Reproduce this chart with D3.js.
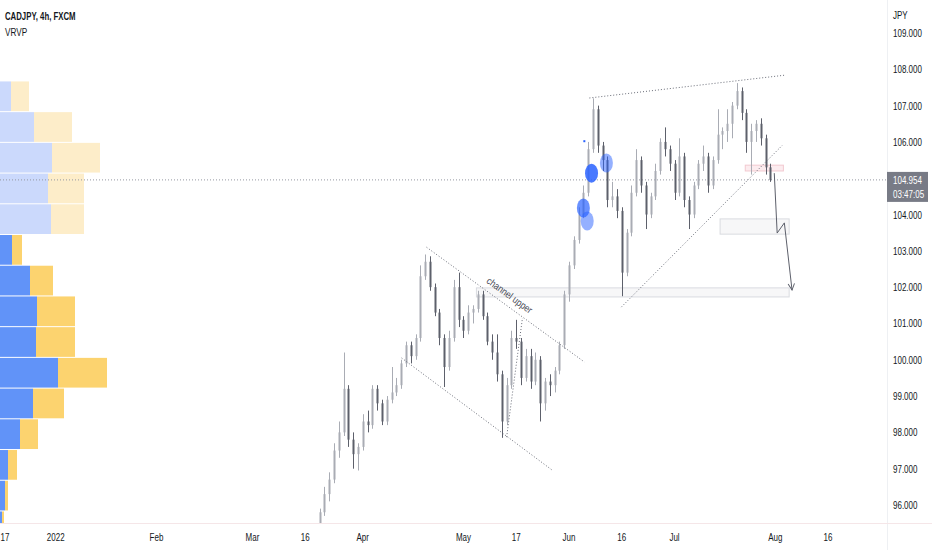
<!DOCTYPE html>
<html>
<head>
<meta charset="utf-8">
<script src="https://cdn.jsdelivr.net/npm/d3@7"></script>
<style>
  html, body { margin: 0; padding: 0; background: #fff; }
  svg { display: block; font-family: 'Liberation Sans', Arial, sans-serif; }
</style>
</head>
<body>
<div id="chart"></div>
<script>
// daily OHLC, first bar on candleStart, one per trading day
const candleStart = '2022-03-21'
const candles = [
  [95.3, 95.9, 95.2, 95.8], [95.8, 96.5, 95.7, 96.3], [96.3, 96.9, 96.1, 96.7], [96.7, 97.7, 96.6, 97.5],
  [97.5, 98.3, 97.3, 98.0], [98.0, 100.2, 97.9, 99.2], [99.2, 99.3, 97.6, 97.8], [97.8, 98.0, 97.0, 97.4],
  [97.4, 97.7, 96.95, 97.6], [97.6, 98.5, 97.5, 98.3], [98.3, 98.6, 98.0, 98.2], [98.2, 99.3, 98.1, 99.2],
  [99.2, 99.3, 98.6, 98.8], [98.8, 98.9, 98.2, 98.3], [98.3, 99.0, 98.2, 98.9], [98.9, 99.8, 98.8, 99.1],
  [99.1, 99.5, 99.0, 99.3], [99.3, 100.0, 99.2, 99.9], [99.9, 100.5, 99.8, 100.4], [100.4, 100.5, 99.9, 100.1],
  [100.1, 100.7, 100.0, 100.6], [100.6, 102.6, 100.5, 102.3], [102.3, 102.9, 102.2, 102.7], [102.7, 102.85, 101.9, 102.0],
  [102.0, 102.1, 101.2, 101.3], [101.3, 101.4, 100.4, 100.6], [100.6, 100.7, 99.25, 99.8], [99.8, 100.8, 99.7, 100.6],
  [100.6, 102.2, 100.5, 102.0], [102.0, 102.4, 100.9, 101.1], [101.1, 101.2, 100.6, 100.8], [100.8, 101.5, 100.7, 101.3],
  [101.3, 101.5, 101.0, 101.4], [101.4, 101.9, 101.3, 101.8], [101.8, 101.9, 101.1, 101.2], [101.2, 101.3, 100.4, 100.5],
  [100.5, 100.7, 100.0, 100.2], [100.2, 100.7, 99.4, 99.6], [99.6, 99.7, 97.85, 98.3], [98.3, 99.5, 98.2, 99.3],
  [99.3, 100.8, 99.2, 100.6], [100.6, 101.1, 100.3, 100.5], [100.5, 100.6, 99.3, 99.5], [99.5, 100.3, 99.4, 100.1],
  [100.1, 100.3, 99.2, 99.4], [99.4, 100.2, 99.3, 100.0], [100.0, 100.1, 98.3, 98.8], [98.8, 99.5, 98.6, 99.4],
  [99.4, 99.6, 99.0, 99.3], [99.3, 99.8, 99.1, 99.7], [99.7, 100.5, 99.6, 100.4], [100.4, 101.9, 100.3, 101.8],
  [101.8, 102.7, 101.6, 102.6], [102.6, 103.4, 102.5, 103.3], [103.3, 104.2, 103.2, 104.0], [104.0, 104.8, 103.9, 104.6],
  [104.6, 106.0, 104.5, 105.8], [105.8, 107.2, 105.7, 106.9], [106.9, 107.0, 105.7, 105.9], [105.9, 106.0, 105.2, 105.5],
  [105.5, 105.6, 104.2, 104.4], [104.4, 104.9, 104.2, 104.5], [104.5, 104.7, 103.9, 104.1], [104.1, 104.2, 101.75, 102.4],
  [102.4, 103.6, 102.3, 103.5], [103.5, 104.8, 103.4, 104.6], [104.6, 105.8, 104.5, 105.5], [105.5, 105.6, 104.6, 104.8],
  [104.8, 104.9, 103.6, 104.0], [104.0, 104.6, 103.9, 104.5], [104.5, 105.4, 104.4, 105.2], [105.2, 106.1, 105.1, 106.0],
  [106.0, 106.4, 105.6, 105.8], [105.8, 105.9, 105.2, 105.4], [105.4, 105.5, 104.4, 104.6], [104.6, 106.1, 104.5, 105.6],
  [105.6, 105.7, 104.2, 104.4], [104.4, 104.5, 103.6, 104.0], [104.0, 104.9, 103.9, 104.8], [104.8, 105.5, 104.7, 105.4],
  [105.4, 105.9, 105.2, 105.6], [105.6, 105.7, 104.6, 104.8], [104.8, 105.6, 104.7, 105.5], [105.5, 106.9, 105.4, 106.2],
  [106.2, 106.4, 105.8, 106.3], [106.3, 106.9, 106.0, 106.5], [106.5, 107.1, 106.1, 107.0], [107.0, 107.62, 106.9, 107.4],
  [107.4, 107.5, 106.6, 106.8], [106.8, 106.9, 105.7, 106.0], [106.0, 106.5, 105.1, 106.3], [106.3, 106.6, 106.0, 106.5],
  [106.5, 106.65, 105.9, 106.1], [106.1, 106.2, 105.1, 105.3], [105.3, 105.4, 104.9, 104.954]
]

// visible range volume profile, rows from the top price down
const profileTop = 107.68
const profileStep = 0.846
const profileUp = [11, 34, 52, 48, 51, 12, 30, 37, 36, 58, 33, 20, 8, 5, 2]
const profileDown = [18, 38, 48, 36, 33, 10, 23, 38, 39, 49, 31, 18, 9, 3, 2]
const profileFaded = 5

const xTicks = [
  ['2021-12-17', '17'], ['2022-01-03', '2022'], ['2022-02-01', 'Feb'], ['2022-03-01', 'Mar'],
  ['2022-03-16', '16'], ['2022-04-01', 'Apr'], ['2022-05-02', 'May'], ['2022-05-17', '17'],
  ['2022-06-01', 'Jun'], ['2022-06-16', '16'], ['2022-07-01', 'Jul'], ['2022-08-01', 'Aug'],
  ['2022-08-16', '16']
]
const yTicks = [96, 97, 98, 99, 100, 101, 102, 103, 104, 106, 107, 108, 109]
const lastPrice = 104.954
const countdown = '03:47:05'

// drawings: [trading-day index from 2022-01-03, price]
const dottedLines = [
  [[77.3, 103.10], [110.2, 99.94]],
  [[72.1, 100.05], [103.5, 96.96]],
  [[94.0, 97.87], [97.3, 101.15]],
  [[111.25, 107.21], [152.1, 107.84]],
  [[117.9, 101.45], [151.5, 105.91]]
]
const zones = [
  { d: [87.7, 152.9], p: [101.98, 101.73], kind: 'gray' },
  { d: [138.5, 152.9], p: [103.88, 103.46], kind: 'gray' },
  { d: [143.75, 151.7], p: [105.36, 105.20], kind: 'pink' }
]
const arrowPath = [[149.8, 105.14], [150.4, 103.49], [151.9, 103.77], [153.5, 101.92]]
const markers = [
  { d: 111.7, p: 105.14, shade: 'dark' },
  { d: 114.8, p: 105.42, shade: 'light' },
  { d: 110.0, p: 104.18, shade: 'mid' },
  { d: 110.8, p: 103.82, shade: 'light' }
]
const dotMarker = { d: 110.2, p: 106.02 }
const channelLabel = { d: 94.2, p: 101.70, text: 'channel upper' }

const width = 932
const height = 550
const plotRight = 887
const plotBottom = 523
const squeeze = 0.8 // the original's UI font is narrower than the installed ones

// trading calendar (weekdays) so the time axis skips weekends like the original
const parse = d3.timeParse('%Y-%m-%d')
const tradingDays = d3.timeDay.range(new Date(2021, 11, 1), new Date(2022, 8, 30))
  .filter(d => d.getDay() !== 0 && d.getDay() !== 6)
const origin = tradingDays.findIndex(d => +d === +parse('2022-01-03'))
const dayIndex = s => tradingDays.findIndex(d => +d === +parse(s)) - origin

const x = d3.scaleLinear().domain([-11, 161]).range([3, 828])
const y = d3.scaleLinear().domain([96, 109]).range([505, 33])

const place = (px, py, k = squeeze) => `translate(${px},${py}) scale(${k},1)`

const svg = d3.select('#chart').append('svg')
  .attr('width', width)
  .attr('height', height)

svg.append('defs').append('clipPath').attr('id', 'plot')
  .append('rect').attr('x', 0).attr('y', 0).attr('width', plotRight).attr('height', plotBottom)

svg.append('marker').attr('id', 'head')
  .attr('viewBox', '0 0 10 10').attr('refX', 9).attr('refY', 5)
  .attr('markerWidth', 8).attr('markerHeight', 8).attr('orient', 'auto')
  .append('path').attr('d', 'M1,1 L9,5 L1,9').attr('fill', 'none').attr('stroke', '#5d606b').attr('stroke-width', 1.2)

const plot = svg.append('g').attr('clip-path', 'url(#plot)')

// volume profile
const vx = d3.scaleLinear().domain([0, d3.max(profileUp, (u, i) => u + profileDown[i])]).range([0, 107])
const rowTop = i => y(profileTop - i * profileStep) + 0.5
const rowH = i => y(profileTop - (i + 1) * profileStep) - y(profileTop - i * profileStep) - 1
const rows = plot.append('g').selectAll('g').data(profileUp).join('g')
rows.append('rect')
  .attr('x', 0)
  .attr('y', (d, i) => rowTop(i))
  .attr('width', d => vx(d))
  .attr('height', (d, i) => rowH(i))
  .attr('fill', (d, i) => i < profileFaded ? '#cbd9fc' : '#6193f8')
rows.append('rect')
  .attr('x', d => vx(d))
  .attr('y', (d, i) => rowTop(i))
  .attr('width', (d, i) => vx(profileDown[i]))
  .attr('height', (d, i) => rowH(i))
  .attr('fill', (d, i) => i < profileFaded ? '#fdedc9' : '#fcd36f')

// last price line
plot.append('line')
  .attr('x1', 0).attr('x2', plotRight)
  .attr('y1', y(lastPrice)).attr('y2', y(lastPrice))
  .attr('stroke', '#9598a1').attr('stroke-dasharray', '1,2')

// zones
plot.append('g').selectAll('rect').data(zones).join('rect')
  .attr('x', d => x(d.d[0]))
  .attr('y', d => y(d.p[0]))
  .attr('width', d => x(d.d[1]) - x(d.d[0]))
  .attr('height', d => y(d.p[1]) - y(d.p[0]))
  .attr('fill', d => d.kind === 'pink' ? 'rgba(242,160,175,0.2)' : 'rgba(200,202,210,0.15)')
  .attr('stroke', d => d.kind === 'pink' ? '#f2c9d0' : '#d9dbe0')

// candles
const start = dayIndex(candleStart)
const up = d => d[3] >= d[0]
const bars = plot.append('g').selectAll('g').data(candles).join('g')
  .attr('stroke', d => up(d) ? '#a9acb4' : '#5d606b')
bars.append('line')
  .attr('x1', (d, i) => Math.round(x(start + i)) + 0.5)
  .attr('x2', (d, i) => Math.round(x(start + i)) + 0.5)
  .attr('y1', d => y(d[1]))
  .attr('y2', d => y(d[2]))
bars.append('rect')
  .attr('x', (d, i) => Math.round(x(start + i)) - 0.5)
  .attr('y', d => y(Math.max(d[0], d[3])))
  .attr('width', 2)
  .attr('height', d => Math.max(1, Math.abs(y(d[0]) - y(d[3]))))
  .attr('stroke', 'none')
  .attr('fill', d => up(d) ? '#a9acb4' : '#5d606b')

// trend lines
const line = d3.line().x(d => x(d[0])).y(d => y(d[1]))
plot.append('g').selectAll('path').data(dottedLines).join('path')
  .attr('d', line)
  .attr('fill', 'none')
  .attr('stroke', '#6a6d78')
  .attr('stroke-dasharray', '1,2')

plot.append('path')
  .attr('d', line(arrowPath))
  .attr('fill', 'none')
  .attr('stroke', '#5d606b')
  .attr('marker-end', 'url(#head)')

// channel label, rotated along the upper channel line
const a = dottedLines[0]
const angle = Math.atan2(y(a[1][1]) - y(a[0][1]), x(a[1][0]) - x(a[0][0])) * 180 / Math.PI
plot.append('text')
  .attr('transform', `translate(${x(channelLabel.d)},${y(channelLabel.p)}) rotate(${angle}) scale(0.85,1)`)
  .attr('text-anchor', 'middle')
  .attr('font-size', 10)
  .attr('fill', '#4a4d57')
  .text(channelLabel.text)

// markers
const shades = { dark: 'rgba(41,98,255,0.85)', mid: 'rgba(41,98,255,0.7)', light: 'rgba(41,98,255,0.5)' }
plot.append('g').selectAll('ellipse').data(markers).join('ellipse')
  .attr('cx', d => x(d.d))
  .attr('cy', d => y(d.p))
  .attr('rx', 6.5)
  .attr('ry', 9.5)
  .attr('fill', d => shades[d.shade])
plot.append('rect')
  .attr('x', x(dotMarker.d) - 1).attr('y', y(dotMarker.p) - 1)
  .attr('width', 2).attr('height', 2)
  .attr('fill', '#2962ff')

// separators
svg.append('line')
  .attr('x1', plotRight + 0.5).attr('x2', plotRight + 0.5)
  .attr('y1', 0).attr('y2', height)
  .attr('stroke', '#eef0f3')
svg.append('line')
  .attr('x1', 0).attr('x2', width)
  .attr('y1', plotBottom + 0.5).attr('y2', plotBottom + 0.5)
  .attr('stroke', '#f5e6e8')

// price axis
const yAxis = svg.append('g').attr('font-size', 10).attr('fill', '#131722')
yAxis.selectAll('text').data(yTicks).join('text')
  .attr('transform', d => place(893, y(d) + 4))
  .text(d => d3.format('.3f')(d))
yAxis.append('text').attr('transform', place(893, 19)).text('JPY')

const tag = svg.append('g').attr('font-size', 10).attr('fill', '#fff')
tag.append('rect')
  .attr('x', plotRight).attr('y', y(lastPrice) - 8)
  .attr('width', 41).attr('height', 30)
  .attr('fill', '#787b86')
tag.append('text')
  .attr('transform', place(893, y(lastPrice) + 4))
  .text(d3.format('.3f')(lastPrice))
tag.append('text')
  .attr('transform', place(893, y(lastPrice) + 18))
  .text(countdown)

// time axis
svg.append('g').attr('font-size', 10).attr('fill', '#131722')
  .selectAll('text').data(xTicks).join('text')
  .attr('transform', d => place(Math.max(5, x(dayIndex(d[0]))), 541))
  .attr('text-anchor', 'middle')
  .text(d => d[1])

// legend
svg.append('text')
  .attr('transform', place(5, 20, 0.78))
  .attr('font-size', 10).attr('font-weight', 'bold').attr('fill', '#131722')
  .text('CADJPY, 4h, FXCM')
svg.append('text')
  .attr('transform', place(5, 36, 0.82))
  .attr('font-size', 10).attr('fill', '#131722')
  .text('VRVP')
</script>
</body>
</html>
